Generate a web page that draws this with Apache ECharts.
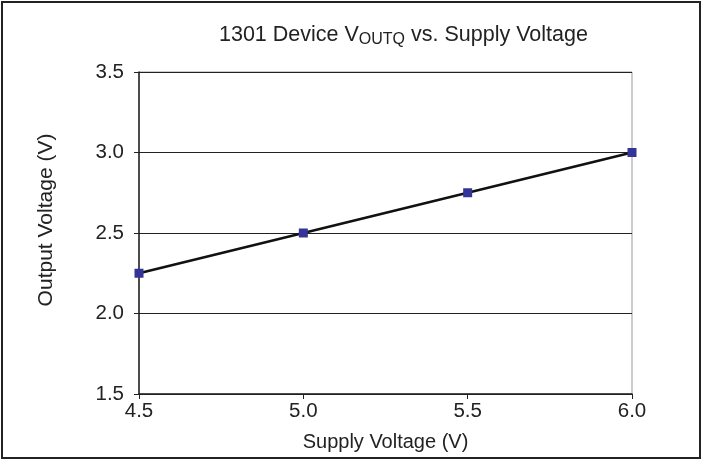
<!DOCTYPE html>
<html>
<head>
<meta charset="utf-8">
<script src="https://cdn.jsdelivr.net/npm/echarts@6/dist/echarts.min.js"></script>
<style>
  html, body { margin: 0; padding: 0; background: #fff; }
  #frame { position: absolute; left: 1px; top: 1px; width: 700px; height: 458px; border: 2px solid #222; box-sizing: border-box; }
  #chart { position: absolute; left: 0; top: 0; width: 704px; height: 462px; }
</style>
</head>
<body>
<div id="frame"></div>
<div id="chart"></div>
<script>
// data
var supplyVoltage = [4.5, 5.0, 5.5, 6.0];
var outputVoltage = [2.25, 2.5, 2.75, 3.0];
var xTicks = [4.5, 5.0, 5.5, 6.0];
var yTicks = [1.5, 2.0, 2.5, 3.0, 3.5];

function voutChart() {
    "use strict";
    var chart = echarts.init(document.getElementById('chart'));
    var pts = supplyVoltage.map(function (v, i) { return [v, outputVoltage[i]]; });
    var option = {
        animation: false,
        textStyle: { fontFamily: 'Liberation Sans, Arial, sans-serif' },
        title: {
            text: '1301 Device V{sub|OUTQ} vs. Supply Voltage',
            left: 214,
            top: 17,
            textStyle: {
                fontSize: 21.5,
                fontWeight: 'normal',
                color: '#222',
                rich: {
                    sub: { fontSize: 16, color: '#222', verticalAlign: 'bottom', padding: [10, 0, 0, 0] }
                }
            }
        },
        grid: {
            left: 139, right: 72, top: 72, bottom: 68,
            outerBoundsMode: 'none',
            show: true, borderColor: '#999', borderWidth: 1
        },
        xAxis: {
            type: 'value',
            min: 4.5,
            max: 6.0,
            interval: 0.5,
            name: 'Supply Voltage (V)',
            nameLocation: 'middle',
            nameGap: 38,
            nameTextStyle: { fontSize: 20, color: '#222' },
            axisLine: { lineStyle: { color: '#222', width: 1.5 } },
            axisTick: { show: true, length: 5, lineStyle: { color: '#222' } },
            axisLabel: {
                fontSize: 20.5, color: '#222', margin: 7,
                formatter: function (v) { return v.toFixed(1); }
            },
            splitLine: { show: false }
        },
        yAxis: {
            type: 'value',
            min: 1.5,
            max: 3.5,
            interval: 0.5,
            name: 'Output Voltage (V)',
            nameLocation: 'middle',
            nameGap: 82,
            nameTextStyle: { fontSize: 21, color: '#222', padding: [0, 0, 0, 26] },
            axisLine: { show: true, lineStyle: { color: '#222', width: 1.5 } },
            axisTick: { show: true, length: 5, lineStyle: { color: '#222' } },
            axisLabel: {
                fontSize: 20.5, color: '#222', margin: 15,
                formatter: function (v) { return v.toFixed(1); }
            },
            splitLine: { show: true, lineStyle: { color: '#222', width: 1 } }
        },
        series: [{
            type: 'line',
            data: pts,
            symbol: 'rect',
            symbolSize: 9,
            itemStyle: { color: '#333399' },
            lineStyle: { color: '#111', width: 2.5 },
            z: 3
        }]
    };
    chart.setOption(option);
}
voutChart();
</script>
</body>
</html>
